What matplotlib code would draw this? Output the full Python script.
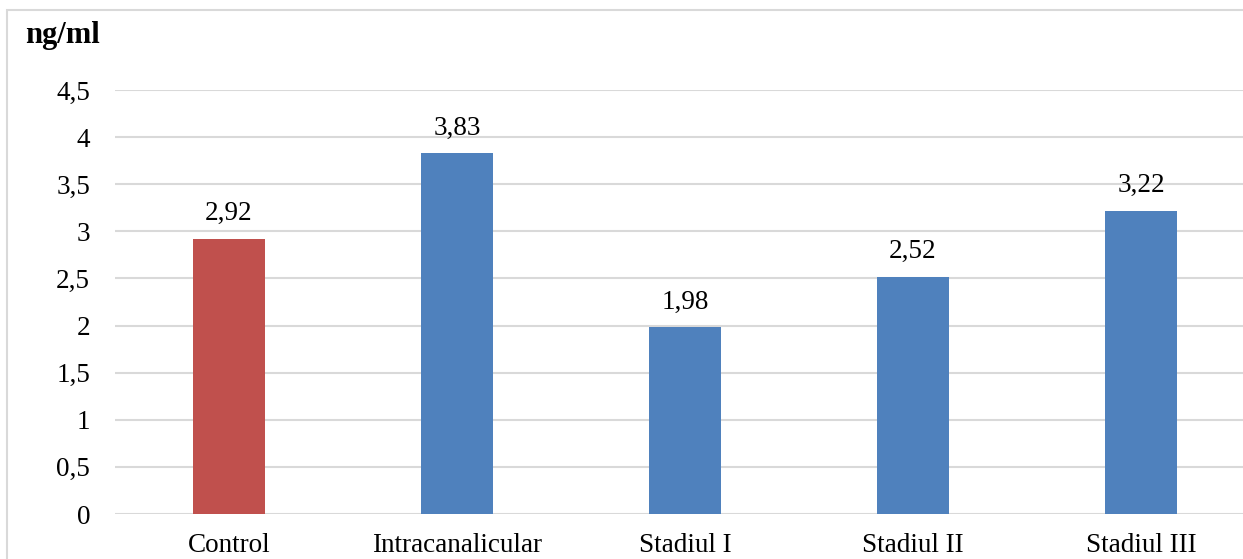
import matplotlib.pyplot as plt
from matplotlib.patches import Rectangle
from matplotlib.ticker import FuncFormatter, MultipleLocator

categories = ["Control", "Intracanalicular", "Stadiul I", "Stadiul II", "Stadiul III"]
values = [2.92, 3.83, 1.98, 2.52, 3.22]
colors = ["#C0504D", "#4F81BD", "#4F81BD", "#4F81BD", "#4F81BD"]

plt.rcParams["font.family"] = ["Liberation Serif", "DejaVu Serif"]

W, H = 1243, 559
fig = plt.figure(figsize=(W / 100, H / 100), dpi=100)

# light frame around the chart area (runs off the right and bottom edges)
fig.patches.append(Rectangle((7 / W, -0.1), 1.2, 1 - 10 / H + 0.1,
                             transform=fig.transFigure, fill=False,
                             edgecolor="#d9d9d9", linewidth=1.5, zorder=0))

ax = fig.add_axes([115 / W, 1 - 514 / H, 1140 / W, (514 - 90) / H])
x = range(len(categories))
ax.bar(x, values, width=0.316, color=colors, zorder=3)
for xi, v in zip(x, values):
    ax.annotate(f"{v:.2f}".replace(".", ","), (xi, v), xytext=(0, 9),
                textcoords="offset points", ha="center", va="bottom", fontsize=19.5)

ax.set_xlim(-0.5, len(categories) - 0.5)
ax.set_ylim(0, 4.5)
ax.yaxis.set_major_locator(MultipleLocator(0.5))
ax.yaxis.set_major_formatter(FuncFormatter(lambda v, _: f"{v:g}".replace(".", ",")))
ax.set_xticks(list(x))
ax.set_xticklabels(categories)
ax.tick_params(axis="both", length=0, labelsize=19.5)
ax.tick_params(axis="x", pad=14)
ax.tick_params(axis="y", pad=18)
ax.grid(axis="y", color="#d9d9d9", linewidth=1.5, zorder=0)
for s in ax.spines.values():
    s.set_visible(False)

fig.text(25 / W, 1 - 36 / H, "ng/ml", fontsize=22, fontweight="bold",
         ha="left", va="center")

fig.savefig("out.png", dpi=100)
